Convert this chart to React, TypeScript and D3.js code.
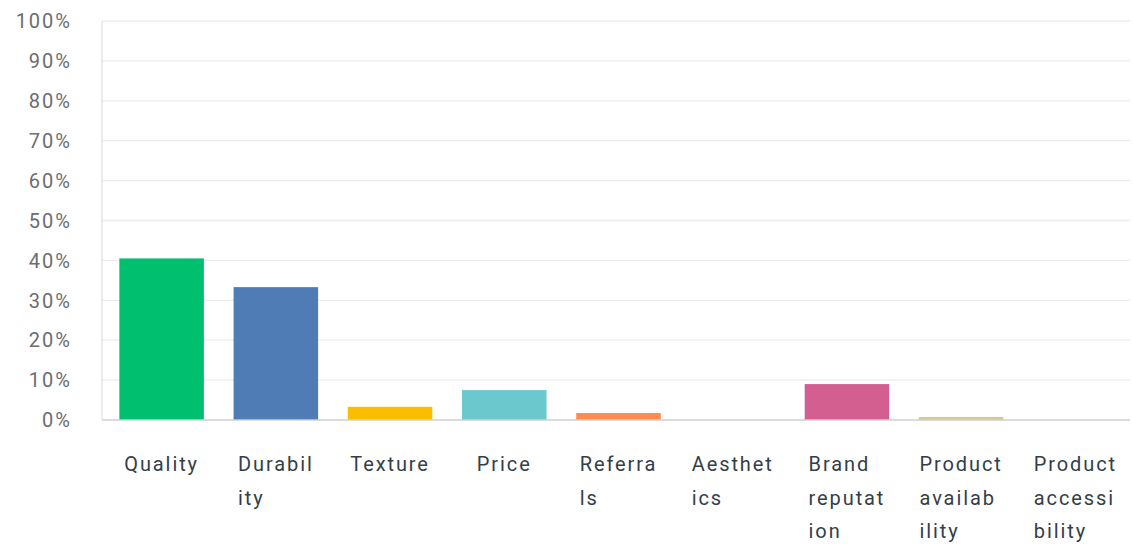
import React, { useRef, useEffect } from 'react';
import * as d3 from 'd3';

const categories = ['Quality', 'Durability', 'Texture', 'Price', 'Referrals', 'Aesthetics', 'Brand reputation', 'Product availability', 'Product accessibility'];
const values = [0.405, 0.333, 0.033, 0.075, 0.0175, 0, 0.09, 0.0075, 0];
const colors = ['#00bf6f', '#507cb6', '#f9be00', '#6bc8cd', '#ff8b4f', '#7d5fa6', '#d25f90', '#d9c98e', '#9da1a5'];
const yTicks = [0, 0.1, 0.2, 0.3, 0.4, 0.5, 0.6, 0.7, 0.8, 0.9, 1];

const width = 1133;
const height = 544;
const plotLeft = 102;
const plotRight = 1130;
const plotTop = 21;
const plotBottom = 420;

// break each word into pieces of at most 7 characters, like the original
const wrap = (label: string) =>
    label.split(' ').flatMap(w => {
        const out: string[] = [];
        for (let i = 0; i < w.length; i += 7) out.push(w.slice(i, i + 7));
        return out;
    });

const BarChart = () => {
    const labelsRef = useRef<SVGGElement>(null);

    const x = d3.scaleBand<string>()
        .domain(categories)
        .range([104.5, 1132.5])
        .paddingInner(0.26)
        .paddingOuter(0.13);

    const y = d3.scaleLinear()
        .domain([0, 1])
        .range([plotBottom, plotTop]);

    const fmt = d3.format('.0%');

    useEffect(() => {
        // center each wrapped label block under its bar, lines left-aligned
        d3.select(labelsRef.current)
            .selectAll<SVGTextElement, unknown>('text.xlabel')
            .each(function (_, i) {
                const c = categories[i];
                const w = (this as SVGTextElement).getBBox().width;
                const left = x(c)! + x.bandwidth() / 2 - w / 2;
                d3.select(this).attr('x', left).selectAll('tspan').attr('x', left);
            });
    }, []);

    return (
        <svg width={width} height={height} style={{ display: 'block', position: 'absolute', left: 0, top: 0 }}>
            <g>
                {yTicks.slice(1).map(t => (
                    <line key={t} x1={plotLeft} x2={plotRight} y1={y(t)} y2={y(t)} stroke="#ececec" strokeWidth={1.3} />
                ))}
                <line x1={plotLeft} x2={plotLeft} y1={plotTop} y2={plotBottom} stroke="#e2e2e2" strokeWidth={1.3} />
            </g>
            <g>
                {yTicks.map(t => (
                    <text key={t} x={72} y={y(t)} dy="0.36em" textAnchor="end"
                        fontFamily="Roboto, sans-serif" fontSize={20} letterSpacing={2} fill="#6b6d70">
                        {fmt(t)}
                    </text>
                ))}
            </g>
            <g>
                {categories.map((c, i) => (
                    <rect key={c} x={x(c)} y={y(values[i])} width={x.bandwidth()}
                        height={plotBottom - y(values[i])} fill={colors[i]} />
                ))}
            </g>
            <line x1={plotLeft} x2={plotRight} y1={plotBottom} y2={plotBottom} stroke="#cfcfcf" strokeWidth={1.5} />
            <g ref={labelsRef}>
                {categories.map(c => (
                    <text key={c} className="xlabel" x={x(c)} y={471}
                        fontFamily="Roboto, sans-serif" fontSize={20} letterSpacing={1.9} fill="#333e48">
                        {wrap(c).map((line, j) => (
                            <tspan key={j} x={x(c)} dy={j === 0 ? 0 : 33.5}>{line}</tspan>
                        ))}
                    </text>
                ))}
            </g>
        </svg>
    );
};

export default function App() {
    return <BarChart />;
}
